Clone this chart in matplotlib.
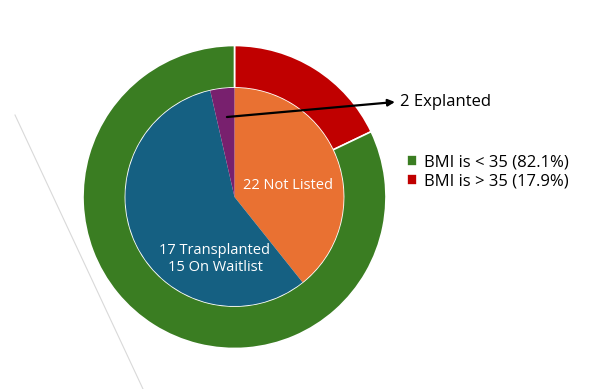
import matplotlib.pyplot as plt
from matplotlib.lines import Line2D

plt.rcParams['font.family'] = ['Open Sans', 'DejaVu Sans']

# outer ring: BMI split
bmi_labels = ['BMI is > 35 (17.9%)', 'BMI is < 35 (82.1%)']
bmi_values = [17.9, 82.1]
bmi_colors = ['#C00000', '#3A7D22']

# inner pie: patient status
status_labels = ['22 Not Listed', '17 Transplanted\n15 On Waitlist', '2 Explanted']
status_values = [22, 32, 2]
status_colors = ['#E97132', '#156082', '#78206E']

W, H = 591, 389
cx, cy, R = 234.5, 197, 151.5

fig = plt.figure(figsize=(W / 100, H / 100), dpi=100)
ax = fig.add_axes([(cx - R) / W, (H - cy - R) / H, 2 * R / W, 2 * R / H])

outer, _ = ax.pie(bmi_values, colors=bmi_colors, radius=1, startangle=90,
                  counterclock=False,
                  wedgeprops=dict(width=0.28, edgecolor='white', linewidth=1.2))
ax.pie(status_values, colors=status_colors, radius=0.72, startangle=90,
       counterclock=False, wedgeprops=dict(linewidth=0))
# pie() resets the limits, so set them afterwards
ax.set_xlim(-1, 1)
ax.set_ylim(-1, 1)
ax.set_aspect('equal')
ax.axis('off')

ax.text(0.35, 0.079, status_labels[0], color='white', fontsize=10.5,
        ha='center', va='center')
ax.text(-0.129, -0.41, status_labels[1], color='white', fontsize=10.5,
        ha='center', va='center', linespacing=1.2)

ax.annotate('', xy=(1.059, 0.627), xytext=(-0.05, 0.528),
            arrowprops=dict(arrowstyle='-|>', color='black', lw=1.6,
                            mutation_scale=10, shrinkA=0, shrinkB=0),
            annotation_clip=False)
ax.text(1.092, 0.627, status_labels[2], fontsize=12, ha='left', va='center',
        clip_on=False)

fig.legend([outer[1], outer[0]], [bmi_labels[1], bmi_labels[0]],
           loc='center left', bbox_to_anchor=(399 / W, 1 - 172 / H),
           frameon=False, fontsize=12, handlelength=0.6, handleheight=0.6,
           handletextpad=0.4, labelspacing=0.2, borderpad=0)

# faint diagonal line on the left
fig.add_artist(Line2D([15 / W, 143 / W], [1 - 115 / H, 1 - 389 / H],
                      color='#D9D9D9', linewidth=0.8))

fig.savefig('out.png', dpi=100)
